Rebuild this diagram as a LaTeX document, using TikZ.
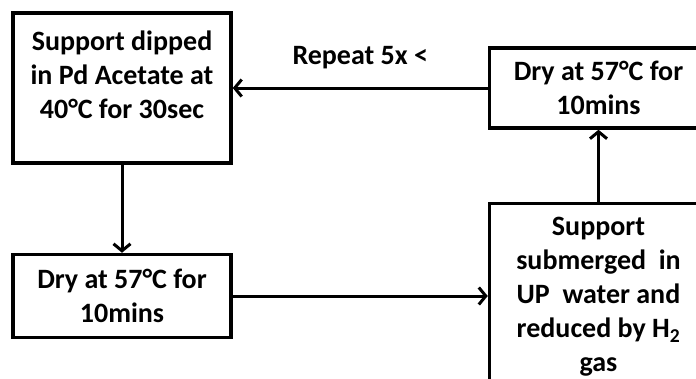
\documentclass[tikz,border=0pt]{standalone}
\usepackage{fontspec}
\setmainfont{Carlito}
\usetikzlibrary{arrows.meta, positioning}
\tikzset{
    stepbox/.style={rectangle, draw=black, line width=3.5pt, minimum width=218pt, align=center, inner xsep=4pt, inner ysep=6pt},
    flowarrow/.style={-{Straight Barb[length=7pt, width=17pt]}, line width=3pt},
}

\begin{document}
\begin{tikzpicture}[x=1pt, y=-1pt, font=\fontsize{28}{34}\selectfont\bfseries, node distance=88pt]
    \useasboundingbox (0,0) rectangle (696,378);
    \clip (0,0) rectangle (696,378);
    \node[stepbox, minimum height=150pt] (dip) at (122,88) {Support dipped\\in Pd Acetate at\\40°C for 30sec\rule[-26pt]{0pt}{0pt}};
    \node[stepbox, minimum height=83pt, below=of dip] (dryA) {Dry at 57°C for\\10mins};
    \node[stepbox, minimum height=80pt, right=255pt of dip] (dryB) {Dry at 57°C for\\10mins};
    \node[stepbox, inner ysep=14pt, below=72pt of dryB] (sub) {Support\\submerged\ \ in\\UP\ \ water and\\reduced by H\textsubscript{2}\\gas};
    \draw[flowarrow](dip)--(dryA);
    \draw[flowarrow](dryA)--(sub.west|-dryA);
    \draw[flowarrow](sub)--(dryB);
    \draw[flowarrow](dryB)-- node[above=14pt]{Repeat 5x <}(dip);
\end{tikzpicture}
\end{document}
